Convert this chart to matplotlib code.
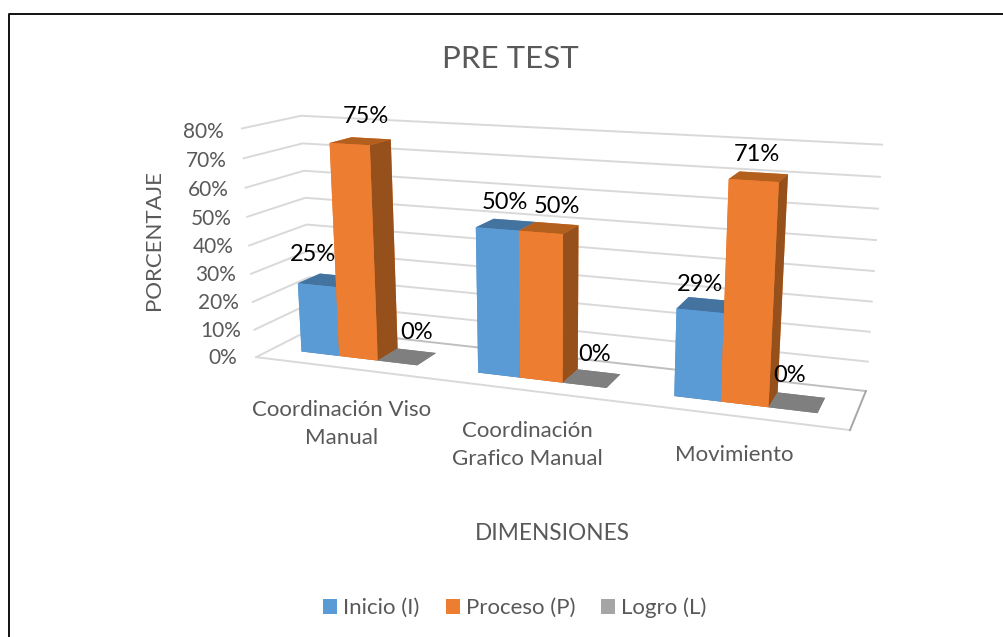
"""3D clustered columns, PRE TEST by dimension."""

import numpy as np
import matplotlib as mpl
mpl.use("Agg")
import matplotlib.pyplot as plt
from matplotlib.patches import Patch
from matplotlib.lines import Line2D

W, H = 1004, 637

DIMENSIONS = ["Coordinación Viso\nManual", "Coordinación\nGrafico Manual", "Movimiento"]
SERIES = ["Inicio (I)", "Proceso (P)", "Logro (L)"]
INICIO = [25, 50, 29]
PROCESO = [75, 50, 71]
LOGRO = [0, 0, 0]
TICKS = [0, 10, 20, 30, 40, 50, 60, 70, 80]

# nudges for the value labels: along the floor, and height above the bar
LABEL_DX = [[-0.145, -0.05, -0.058], [-0.022, 0.0, -0.032], [0.0, -0.022, -0.058]]
LABEL_LIFT = [[6.7, 6.0, 4.6], [7.3, 5.6, 5.6], [6.7, 6.0, 6.3]]

# front, top, side
FACE_COLORS = {
    "Inicio (I)": ("#5B9BD5", "#44739F", "#3F6C96"),
    "Proceso (P)": ("#ED7D31", "#B3601F", "#96501C"),
    "Logro (L)": ("#A5A5A5", "#7F7F7F", "#7F7F7F"),
}
LEGEND_COLORS = ["#5B9BD5", "#ED7D31", "#A5A5A5"]

TEXT_GRAY = "#595959"
GRID = "#D9D9D9"
EDGE = "#BFBFBF"

plt.rcParams["font.family"] = ["Lato", "DejaVu Sans"]

# walls of the chart box (x, depth, value) and where they land on the canvas
BOX = [
    ((0, 0, 0), (257, 355)),
    ((0, 1, 0), (311, 331)),
    ((3, 1, 0), (866, 389)),
    ((3, 0, 0), (850, 432)),
    ((0, 0, 80), (241, 129)),
    ((0, 1, 80), (302, 115)),
    ((3, 1, 80), (882, 145)),
]


def camera(box):
    rows, rhs = [], []
    for (x, y, z), (u, v) in box:
        rows.append([x, y, z, 1, 0, 0, 0, 0, -u * x, -u * y, -u * z])
        rows.append([0, 0, 0, 0, x, y, z, 1, -v * x, -v * y, -v * z])
        rhs += [u, v]
    p = np.linalg.lstsq(np.array(rows, float), np.array(rhs, float), rcond=None)[0]
    return np.array([
        [p[0], p[1], p[2], p[3]],
        [p[4], p[5], p[6], p[7]],
        [-0.1, 1.0, -0.001, 0.0],
        [p[8], p[9], p[10], 1.0],
    ])


def fig_xy(x, y):
    return x / W, 1 - y / H


def label_3d(x, y, z, s, **kwargs):
    h = M @ np.array([x, y, z, 1.0])
    fig.text(*fig_xy(h[0] / h[3], h[1] / h[3]), s, ha="center", va="center", **kwargs)


fig = plt.figure(figsize=(W / 100, H / 100), dpi=100)
side = W / H
ax = fig.add_axes([0, (1 - side) / 2, 1, side], projection="3d")
ax.set_proj_type("ortho")  # no line clipping against the unit cube
M = camera(BOX)
ax.get_proj = lambda: M
ax.computed_zorder = False
ax.set_xticks([])
ax.set_yticks([])
ax.set_zticks([])
ax.set_axis_off()
ax.viewLim.intervalx = (0, W)
ax.viewLim.intervaly = (H + (W - H) / 2, -(W - H) / 2)

# walls
for t in TICKS[1:]:
    ax.plot([0, 0, 3], [0, 1, 1], [t, t, t], color=GRID, lw=1.4, zorder=1)
ax.plot([0, 3, 3], [0, 0, 0], [0, 0, 0], color=GRID, lw=1.4, zorder=1)
ax.plot([0, 0], [0, 1], [0, 0], color=GRID, lw=1.4, zorder=1)
ax.plot([0, 3], [1, 1], [0, 0], color=EDGE, lw=1.4, zorder=1)
ax.plot([3, 3], [0, 1], [0, 0], color="#A6A6A6", lw=1.4, zorder=1)

for t in TICKS:
    label_3d(-0.2 - t * 0.0003, 0, t * 0.999 - 1.75, f"{t}%", fontsize=15, color=TEXT_GRAY)

# columns, gap width 150 %
BAR_W = 2 / 9
BAR_D = 0.4
Y0 = 0.3
order = 2
for i in range(len(DIMENSIONS)):
    for j, (name, vals) in enumerate(zip(SERIES, [INICIO, PROCESO, LOGRO])):
        front, top, right = FACE_COLORS[name]
        x0 = i + 1 / 6 + j * BAR_W
        v = vals[i]
        # bottom, top, front, back, left, right
        cols = [top, top, front, front, front, right]
        ax.bar3d([x0], [Y0], [0], BAR_W, BAR_D, max(v, 0.001), color=cols,
                 shade=False, linewidth=0, zorder=order)
        order += 1
        label_3d(x0 + BAR_W / 2 + LABEL_DX[j][i], Y0 + BAR_D, v + LABEL_LIFT[j][i], f"{v}%",
                 fontsize=17, color="black", zorder=50)

ax_labels = [(342, 424), (527, 445), (734, 455)]
for label, (px, py) in zip(DIMENSIONS, ax_labels):
    fig.text(*fig_xy(px, py), label, ha="center", va="center", fontsize=16,
             color=TEXT_GRAY, linespacing=1.55)

fig.text(*fig_xy(510, 59), "PRE TEST", ha="center", va="center", fontsize=22.5, color=TEXT_GRAY)
fig.text(*fig_xy(154, 240), "PORCENTAJE", ha="center", va="center", rotation=90,
         fontsize=16, color=TEXT_GRAY)
fig.text(*fig_xy(552, 533), "DIMENSIONES", ha="center", va="center", fontsize=16.3, color=TEXT_GRAY)

handles = [Patch(facecolor=c, edgecolor="none") for c in LEGEND_COLORS]
fig.legend(handles, SERIES, ncol=3, loc="center", bbox_to_anchor=fig_xy(515, 608),
           frameon=False, fontsize=16, labelcolor=TEXT_GRAY, handlelength=0.63,
           handleheight=0.63, handletextpad=0.27, columnspacing=1.17)

# frame around the chart (open on the right)
fig.add_artist(Line2D([9 / W, 9 / W, 1], [0, 1 - 13.5 / H, 1 - 13.5 / H],
                      color="#111111", lw=1.4))

fig.savefig("out.png", dpi=100)
